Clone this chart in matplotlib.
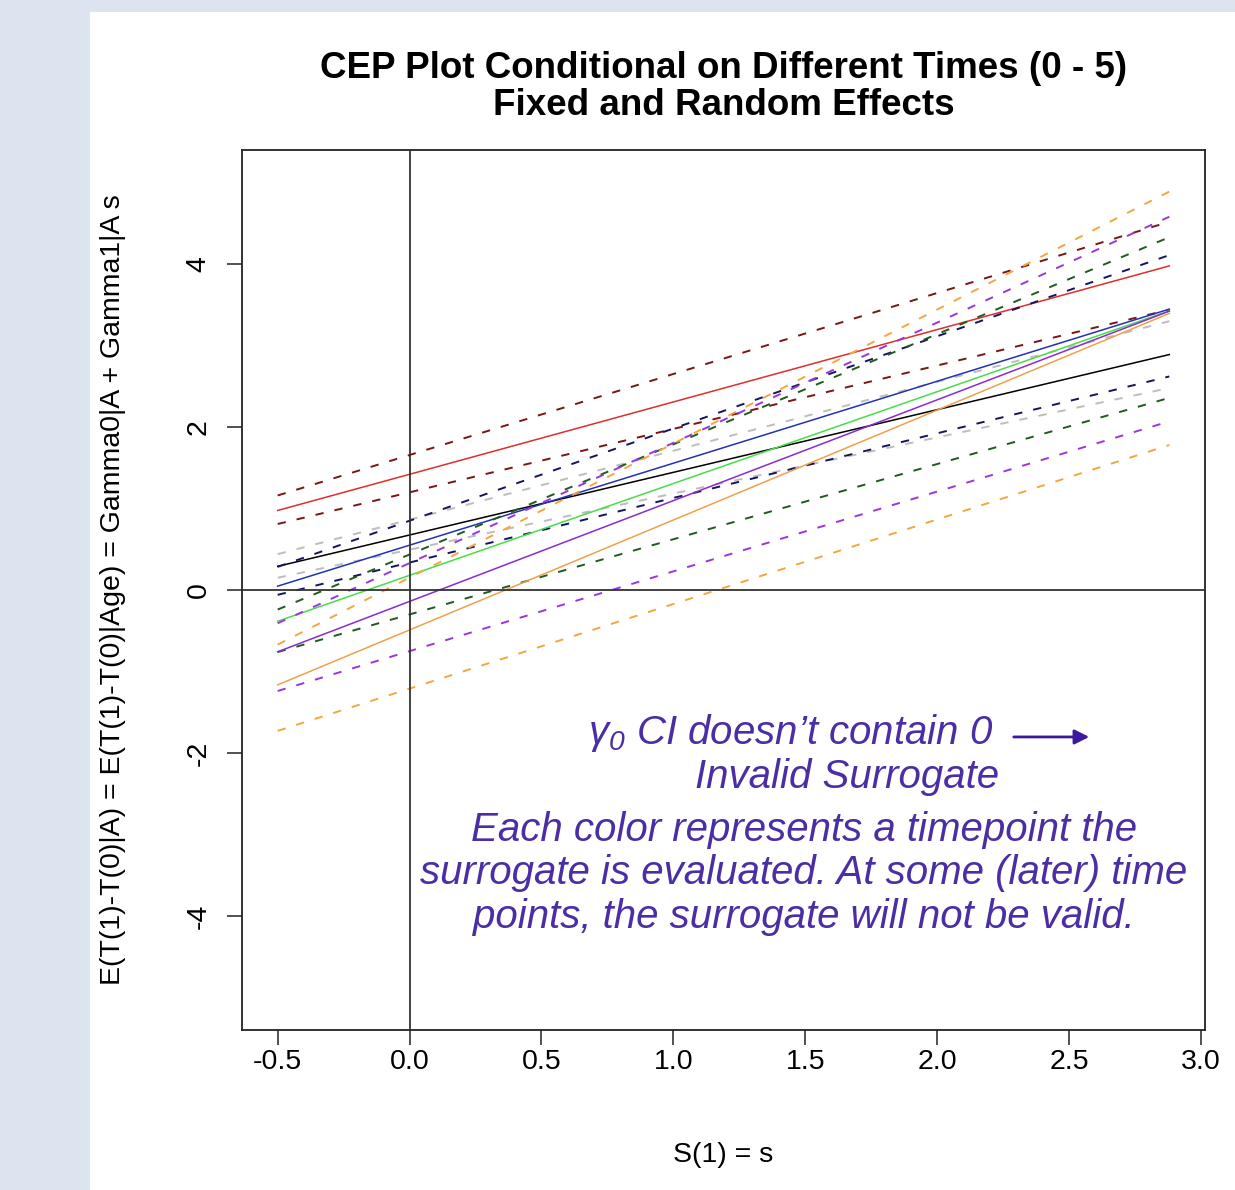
import matplotlib
matplotlib.use("Agg")
import matplotlib.pyplot as plt
import numpy as np
from matplotlib.patches import Rectangle

plt.rcParams["font.family"] = ["Liberation Sans", "DejaVu Sans"]
plt.rcParams["axes.unicode_minus"] = False
plt.rcParams["lines.scale_dashes"] = False
plt.rcParams["mathtext.fontset"] = "custom"
plt.rcParams["mathtext.it"] = "Liberation Sans:italic"
plt.rcParams["mathtext.rm"] = "Liberation Sans:italic"

# CEP lines per time point: estimate and CI bounds (intercept gamma0, slope gamma1)
times = [0, 1, 2, 3, 4, 5]
gamma0 = [0.675, 1.42, 0.55, 0.18, -0.14, -0.49]
gamma1 = [0.769, 0.888, 1.006, 1.127, 1.237, 1.349]
gamma0_lo = [0.495, 1.199, 0.337, -0.30, -0.75, -1.21]
gamma1_lo = [0.689, 0.778, 0.793, 0.923, 0.979, 1.038]
gamma0_hi = [0.863, 1.657, 0.85, 0.436, 0.33, 0.152]
gamma1_hi = [0.846, 0.994, 1.132, 1.352, 1.476, 1.645]

s_min, s_max = -0.5, 2.88

solid_colors = ["#000000", "#DE2E2A", "#2330B8", "#48DD48", "#8A2BD0", "#F0A04A"]
dash_colors = ["#BDBDBD", "#7A1515", "#15155E", "#1F5A1F", "#9A35E0", "#F5A540"]

s = np.linspace(s_min, s_max, 100)

fig = plt.figure(figsize=(12.35, 11.9), dpi=100, facecolor="#DCE4EF")
fig.add_artist(Rectangle((90 / 1235, 0), 1 - 90 / 1235, 1 - 12 / 1190,
                         transform=fig.transFigure, facecolor="white",
                         edgecolor="none", zorder=-10))

ax = fig.add_axes([242 / 1235, 1 - 1030 / 1190, (1205 - 242) / 1235, (1030 - 150) / 1190])

for i, t in enumerate(times):
    ax.plot(s, gamma0[i] + gamma1[i] * s, color=solid_colors[i], lw=1.1)
    ax.plot(s, gamma0_lo[i] + gamma1_lo[i] * s, color=dash_colors[i], lw=1.4, dashes=(6, 8))
    ax.plot(s, gamma0_hi[i] + gamma1_hi[i] * s, color=dash_colors[i], lw=1.4, dashes=(6, 8))

ax.axhline(0, color="#333333", lw=1.3, zorder=3)
ax.axvline(0, color="#333333", lw=1.3, zorder=3)

pad = 0.04 * (s_max - s_min)
ax.set_xlim(s_min - pad, s_max + pad)
ax.set_ylim(-5.4, 5.4)
ax.set_xticks(np.arange(-0.5, 3.01, 0.5))
ax.set_xticklabels([f"{v:.1f}" for v in np.arange(-0.5, 3.01, 0.5)])
ax.set_yticks([-4, -2, 0, 2, 4])
ax.set_yticklabels(["-4", "-2", "0", "2", "4"])
for lab in ax.get_yticklabels():
    lab.set_rotation(90)
    lab.set_va("center")
ax.tick_params(length=11, width=1.1, labelsize=20.5, color="#222222")
ax.tick_params(axis="x", pad=3)
ax.tick_params(axis="y", pad=11)
for sp in ax.spines.values():
    sp.set_linewidth(1.3)
    sp.set_color("#222222")

ax.set_xlabel("S(1) = s", fontsize=20.5)
ax.xaxis.label.set_va("center")
ax.xaxis.set_label_coords(0.5, (1030 - 1155) / 880)
ax.set_ylabel("E(T(1)-T(0)|A) = E(T(1)-T(0)|Age) = Gamma0|A + Gamma1|A s", fontsize=20.5)
ax.yaxis.label.set_va("center")
ax.yaxis.set_label_coords((113 - 242) / 963, 0.5)

fig.text((242 + 1205) / 2 / 1235, 1 - 87 / 1190,
         "CEP Plot Conditional on Different Times (0 - 5)\nFixed and Random Effects",
         ha="center", va="center", fontsize=26.5, fontweight="bold", linespacing=1.05)

txt_color = "#4B2DA6"
ax.text(0.359, 0.3375, "$\\gamma_0$ CI doesn\u2019t contain 0", transform=ax.transAxes,
        ha="left", va="center", fontsize=29, style="italic", color=txt_color)
ax.annotate("", xy=(0.8827, 0.333), xytext=(0.7985, 0.333), xycoords="axes fraction",
            arrowprops=dict(arrowstyle="-|>", color="#3A1A9A", lw=2, mutation_scale=22))
ax.text(0.628, 0.2875, "Invalid Surrogate", transform=ax.transAxes,
        ha="center", va="center", fontsize=29, style="italic", color=txt_color)
notes = ["Each color represents a timepoint the",
         "surrogate is evaluated. At some (later) time",
         "points, the surrogate will not be valid."]
for yy, line in zip([0.2273, 0.1784, 0.1284], notes):
    ax.text(0.5836, yy, line, transform=ax.transAxes,
            ha="center", va="center", fontsize=29, style="italic", color=txt_color)

fig.savefig("out.png", dpi=100, facecolor=fig.get_facecolor())
